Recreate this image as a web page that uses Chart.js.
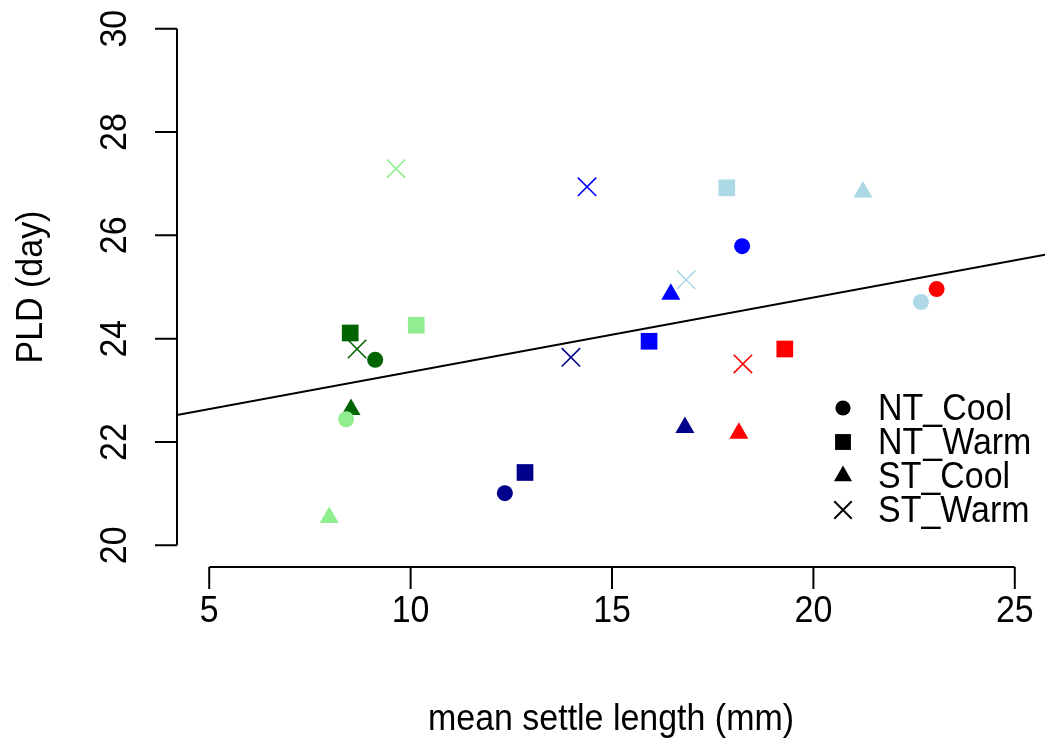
<!DOCTYPE html>
<html>
<head>
<meta charset="utf-8">
<title>PLD vs mean settle length</title>
<script src="https://cdn.jsdelivr.net/npm/chart.js@4"></script>
<style>
  html, body { margin: 0; padding: 0; background: #fff; overflow: hidden; }
  canvas { display: block; }
</style>
</head>
<body>
<canvas id="scatter" width="1045" height="742"></canvas>
<script>
// colour of each group, same order in every treatment array
const groupColors = ["#006400", "#90EE90", "#00008B", "#0000FF", "#ADD8E6", "#FF0000"];

const treatments = ["NT_Cool", "NT_Warm", "ST_Cool", "ST_Warm"];
const treatmentShapes = ["circle", "rect", "triangle", "crossRot"];
const shapeRadius = [8, 11.8, 11, 13];

// mean settle length (mm)
const ntCoolX = [9.12, 8.40, 12.34, 18.23, 22.67, 23.06];
const ntWarmX = [8.50, 10.14, 12.84, 15.92, 17.85, 19.29];
const stCoolX = [8.52, 7.98, 16.81, 16.46, 21.23, 18.15];
const stWarmX = [8.67, 9.64, 13.98, 14.38, 16.84, 18.25];

// PLD (day)
const ntCoolY = [23.59, 22.44, 21.01, 25.79, 24.71, 24.96];
const ntWarmY = [24.11, 24.26, 21.41, 23.95, 26.92, 23.80];
const stCoolY = [22.63, 20.54, 22.28, 24.86, 26.84, 22.17];
const stWarmY = [23.80, 27.29, 23.64, 26.94, 25.14, 23.51];

// fitted line: PLD = intercept + slope * length
const fitIntercept = 21.92;
const fitSlope = 0.1438;

const xTicks = [5, 10, 15, 20, 25];
const yTicks = [20, 22, 24, 26, 28, 30];

const xRange = [4.2, 25.75];
const yRange = [19.6, 30.4];

const FONT = "35px 'Liberation Sans', Arial, sans-serif";

const xs = [ntCoolX, ntWarmX, stCoolX, stWarmX];
const ys = [ntCoolY, ntWarmY, stCoolY, stWarmY];

const pointSets = treatments.map((name, k) => ({
    type: "scatter",
    label: name,
    data: xs[k].map((v, i) => ({ x: v, y: ys[k][i] })),
    pointStyle: treatmentShapes[k],
    pointRadius: shapeRadius[k],
    backgroundColor: groupColors,
    borderColor: groupColors,
    borderWidth: treatmentShapes[k] === "crossRot" ? 1.6 : 0
}));

const fitLine = {
    type: "line",
    label: "fit",
    data: xRange.map(v => ({ x: v, y: fitIntercept + fitSlope * v })),
    borderColor: "#000",
    borderWidth: 2,
    pointRadius: 0,
    fill: false
};

// text a little taller than wide, optionally turned 90 degrees
function putText(ctx, text, x, y, turned) {
    ctx.save();
    ctx.translate(x, y);
    if (turned) ctx.rotate(-Math.PI / 2);
    ctx.scale(0.97, 1.08);
    ctx.fillText(text, 0, 0);
    ctx.restore();
}

// R-style axes, titles and legend
const baseAxes = {
    id: "baseAxes",
    afterDraw(chart) {
        const ctx = chart.ctx;
        const sx = chart.scales.x, sy = chart.scales.y;
        const area = chart.chartArea;
        ctx.save();
        ctx.strokeStyle = "#000";
        ctx.fillStyle = "#000";
        ctx.lineWidth = 2;
        ctx.font = FONT;

        // y axis
        const yb = sy.getPixelForValue(yTicks[0]);
        const yt = sy.getPixelForValue(yTicks[yTicks.length - 1]);
        ctx.beginPath();
        ctx.moveTo(area.left, yb);
        ctx.lineTo(area.left, yt);
        yTicks.forEach(t => {
            const py = sy.getPixelForValue(t);
            ctx.moveTo(area.left - 22, py);
            ctx.lineTo(area.left, py);
        });

        // x axis
        const axisY = area.bottom + 1;
        const xl = sx.getPixelForValue(xTicks[0]);
        const xr = sx.getPixelForValue(xTicks[xTicks.length - 1]);
        ctx.moveTo(xl, axisY);
        ctx.lineTo(xr, axisY);
        xTicks.forEach(t => {
            const px = sx.getPixelForValue(t);
            ctx.moveTo(px, axisY);
            ctx.lineTo(px, axisY + 22);
        });
        ctx.stroke();

        // tick labels
        ctx.textAlign = "center";
        ctx.textBaseline = "alphabetic";
        xTicks.forEach(t => putText(ctx, String(t), sx.getPixelForValue(t), 622, false));
        yTicks.forEach(t => putText(ctx, String(t), 126, sy.getPixelForValue(t), true));

        // axis titles
        const midX = (area.left + area.right) / 2;
        const midY = (area.top + area.bottom) / 2;
        putText(ctx, "mean settle length (mm)", midX, 730, false);
        putText(ctx, "PLD (day)", 42, midY, true);

        // legend
        ctx.textAlign = "left";
        ctx.textBaseline = "middle";
        treatments.forEach((name, k) => {
            const ly = 408 + k * 34;
            Chart.helpers.drawPoint(ctx, {
                pointStyle: treatmentShapes[k],
                radius: shapeRadius[k] * 0.95,
                borderWidth: treatmentShapes[k] === "crossRot" ? 1.4 : 0,
                rotation: 0
            }, 843, ly);
            ctx.fillStyle = "#000";
            putText(ctx, name, 878, ly + 2, false);
        });
        ctx.restore();
    }
};

new Chart(document.getElementById("scatter"), {
    data: { datasets: [fitLine, ...pointSets] },
    options: {
        responsive: false,
        animation: false,
        devicePixelRatio: 1,
        events: [],
        layout: { autoPadding: false, padding: { left: 177, right: 0, top: 8, bottom: 176 } },
        scales: {
            x: { type: "linear", min: xRange[0], max: xRange[1], display: false },
            y: { type: "linear", min: yRange[0], max: yRange[1], display: false }
        },
        plugins: {
            legend: { display: false },
            tooltip: { enabled: false }
        }
    },
    plugins: [baseAxes]
});
</script>
</body>
</html>
